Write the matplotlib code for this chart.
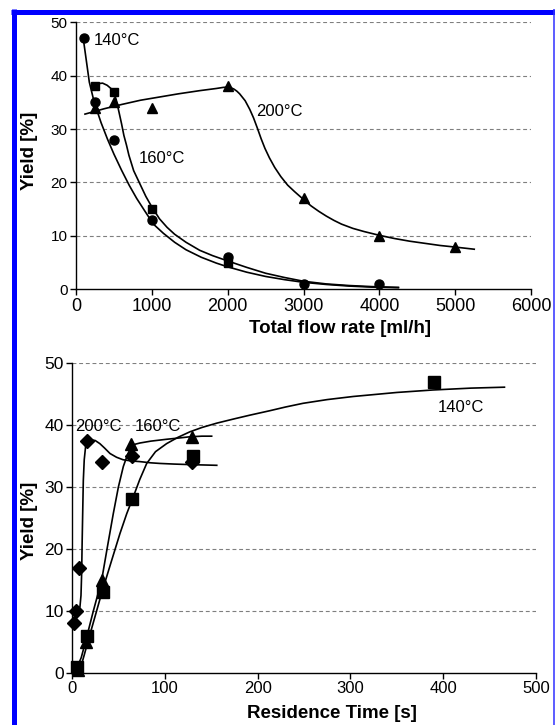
"""
plot.py
=======
Yield vs total flow rate (top) and yield vs residence time (bottom)
for three reactor temperatures.

Output
------
    out.png
"""

import matplotlib
matplotlib.use("Agg")
import matplotlib.pyplot as plt
from matplotlib.lines import Line2D

plt.rcParams["font.family"] = ["Liberation Sans", "DejaVu Sans"]

# ── Top panel: total flow rate [ml/h] ─────────────────────────────────────────
flow_140 = [100, 250, 500, 1000, 2000, 3000, 4000]
yield_flow_140 = [47, 35, 28, 13, 6, 1, 1]

flow_160 = [250, 500, 1000, 2000]
yield_flow_160 = [38, 37, 15, 5]

flow_200 = [250, 500, 1000, 2000, 3000, 4000, 5000]
yield_flow_200 = [34, 35, 34, 38, 17, 10, 8]

# trend lines
fit_flow_140_x = [90, 175, 240, 330, 415, 500, 600, 700, 800, 900, 1020,
                  1150, 1300, 1450, 1650, 1850, 2000, 2250, 2500, 2750,
                  3000, 3300, 3600, 3900, 4250]
fit_flow_140_y = [47.5, 38.8, 35.0, 31.2, 28.1, 25.3, 22.3, 19.5, 17.0,
                  14.8, 12.2, 10.5, 8.8, 7.4, 6.0, 4.9, 4.2, 3.2, 2.4, 1.8,
                  1.3, 0.9, 0.6, 0.4, 0.3]

fit_flow_160_x = [250, 290, 350, 410, 460, 500, 530, 566, 600, 631, 665,
                  697, 760, 850, 920, 1000, 1100, 1200, 1300, 1450, 1630,
                  1800, 2000, 2250, 2500, 2750, 3000, 3300, 3600, 3900, 4250]
fit_flow_160_y = [38.1, 38.5, 38.6, 38.2, 37.6, 36.8, 35.5, 33.2, 31.0,
                  28.8, 27.0, 25.1, 22.2, 19.5, 17.4, 15.4, 13.2, 11.6,
                  10.3, 8.8, 7.3, 6.3, 5.3, 4.1, 3.0, 2.2, 1.5, 1.0, 0.7,
                  0.5, 0.35]

fit_flow_200_x = [118, 370, 600, 850, 1100, 1350, 1634, 1850, 1940, 1983,
                  2030, 2080, 2120, 2157, 2230, 2290, 2340, 2390, 2440,
                  2490, 2550, 2620, 2700, 2790, 2880, 3000, 3100, 3200,
                  3300, 3400, 3500, 3650, 3800, 4000, 4200, 4400, 4600,
                  4800, 5000, 5250]
fit_flow_200_y = [32.8, 33.8, 34.6, 35.4, 36.0, 36.6, 37.2, 37.6, 37.8,
                  37.85, 37.8, 37.5, 37.1, 36.6, 35.3, 33.7, 32.1, 30.2,
                  28.2, 26.4, 24.6, 22.8, 21.1, 19.5, 18.3, 16.8, 15.6,
                  14.6, 13.7, 12.9, 12.2, 11.4, 10.8, 10.1, 9.5, 9.0, 8.6,
                  8.2, 7.9, 7.5]

flow_labels = ["140°C", "160°C", "200°C"]
flow_label_x = [235, 824, 2374]
flow_label_y = [46.6, 24.5, 33.2]

# ── Bottom panel: residence time [s] ──────────────────────────────────────────
time_140 = [5, 16, 33, 65, 130, 390]
yield_time_140 = [1, 6, 13, 28, 35, 47]

time_160 = [6, 15, 32, 64, 129]
yield_time_160 = [0.5, 5, 15, 37, 38]

time_200 = [2, 4, 8, 16.5, 32, 65, 129]
yield_time_200 = [8, 10, 17, 37.5, 34, 35, 34]

fit_time_140_x = [0, 4, 8.6, 13, 17.6, 25, 32, 42, 51.7, 59, 66, 73, 80.5,
                  90, 102, 114, 127, 140, 156, 175, 192, 213, 230, 249,
                  275, 303, 350, 389, 430, 466]
fit_time_140_y = [0, 0, 0.5, 2.8, 5.3, 9.2, 12.9, 17.8, 22.5, 25.7, 28.4,
                  31.2, 33.8, 35.7, 37.0, 38.0, 38.9, 39.6, 40.3, 41.0,
                  41.6, 42.3, 42.9, 43.5, 44.1, 44.6, 45.25, 45.65, 45.95,
                  46.1]

fit_time_160_x = [0, 5, 10, 15, 23, 32, 38, 44.5, 50, 55.3, 60, 64.3, 68,
                  73.3, 85, 102, 115, 127, 140, 150.5]
fit_time_160_y = [0, 0.7, 2.5, 5.3, 10.0, 15.0, 20.2, 25.7, 30.0, 33.3,
                  35.3, 36.6, 36.9, 37.1, 37.4, 37.7, 37.9, 38.1, 38.2,
                  38.2]

fit_time_200_x = [2, 4, 6.1, 8.6, 9.7, 10.4, 11.0, 11.5, 12.2, 13.2, 15,
                  18, 21, 25, 30, 35, 41, 48, 55, 64, 73, 85, 95, 110,
                  130, 156]
fit_time_200_y = [8.1, 8.8, 9.6, 10.7, 12.5, 16.0, 21.5, 25.5, 31.0, 34.4,
                  37.0, 37.5, 37.6, 37.5, 37.0, 36.3, 35.4, 34.8, 34.4,
                  34.2, 34.1, 33.9, 33.8, 33.7, 33.6, 33.5]

time_labels = ["200°C", "160°C", "140°C"]
time_label_x = [3.2, 68, 394]
time_label_y = [39.8, 39.8, 42.9]

GRID_COLOR = "#7f7f7f"
BORDER_BLUE = "#0000ff"


def style_axes(ax, xmax, xstep, xlabel, xlabel_pos, ylabel_pos,
               xtick_size, ytick_size):
    ax.set_xlim(0, xmax)
    ax.set_ylim(0, 50)
    ax.set_xticks(range(0, xmax + 1, xstep))
    ax.set_yticks(range(0, 51, 10))
    for y in range(10, 51, 10):
        ax.axhline(y, color=GRID_COLOR, lw=0.8, ls=(0, (3.5, 2.5)),
                   zorder=0)
    ax.spines["top"].set_visible(False)
    ax.spines["right"].set_visible(False)
    for side in ("left", "bottom"):
        ax.spines[side].set_linewidth(1.0)
    ax.tick_params(direction="out", length=4, width=1.0, pad=2)
    ax.tick_params(axis="x", labelsize=xtick_size)
    ax.tick_params(axis="y", labelsize=ytick_size)
    ax.set_xlabel(xlabel, fontsize=13.5, fontweight="bold")
    ax.set_ylabel("Yield [%]", fontsize=13.5, fontweight="bold")
    ax.xaxis.set_label_coords(*xlabel_pos)
    ax.yaxis.set_label_coords(*ylabel_pos)


def plot_flow(ax):
    kw = dict(color="black", lw=1.2, zorder=2)
    ax.plot(fit_flow_140_x, fit_flow_140_y, **kw)
    ax.plot(fit_flow_160_x, fit_flow_160_y, **kw)
    ax.plot(fit_flow_200_x, fit_flow_200_y, **kw)

    ax.plot(flow_140, yield_flow_140, "o", color="black", ms=6.5, zorder=3,
            clip_on=False)
    ax.plot(flow_160, yield_flow_160, "s", color="black", ms=6, zorder=3,
            clip_on=False)
    ax.plot(flow_200, yield_flow_200, "^", color="black", ms=7.5, zorder=3,
            clip_on=False)

    for txt, x, y in zip(flow_labels, flow_label_x, flow_label_y):
        ax.text(x, y, txt, fontsize=12, ha="left", va="center")

    style_axes(ax, 6000, 1000, "Total flow rate [ml/h]",
               (0.58, -0.115), (-0.084, 0.52), 13, 11)


def plot_time(ax):
    kw = dict(color="black", lw=1.2, zorder=2)
    ax.plot(fit_time_140_x, fit_time_140_y, **kw)
    ax.plot(fit_time_160_x, fit_time_160_y, **kw)
    ax.plot(fit_time_200_x, fit_time_200_y, **kw)

    ax.plot(time_140, yield_time_140, "s", color="black", ms=8.5, zorder=3,
            clip_on=False)
    ax.plot(time_160, yield_time_160, "^", color="black", ms=9, zorder=3,
            clip_on=False)
    ax.plot(time_200, yield_time_200, "D", color="black", ms=7, zorder=3,
            clip_on=False)

    for txt, x, y in zip(time_labels, time_label_x, time_label_y):
        ax.text(x, y, txt, fontsize=12, ha="left", va="center")

    style_axes(ax, 500, 100, "Residence Time [s]",
               (0.56, -0.102), (-0.074, 0.49), 12, 12.5)


def draw_border(fig):
    """Blue frame on the left, top and right edges."""
    W, H = 555.0, 725.0
    fig.add_artist(Line2D([13.5 / W, 13.5 / W], [0, 1 - 9 / H],
                          transform=fig.transFigure, color=BORDER_BLUE,
                          lw=3.6, solid_capstyle="butt"))
    fig.add_artist(Line2D([11 / W, 1], [1 - 11.5 / H, 1 - 11.5 / H],
                          transform=fig.transFigure, color=BORDER_BLUE,
                          lw=3.6, solid_capstyle="butt"))
    fig.add_artist(Line2D([553.5 / W, 553.5 / W], [0, 1 - 9 / H],
                          transform=fig.transFigure, color="#3030ff",
                          lw=1.1, solid_capstyle="butt"))


def main() -> None:
    fig = plt.figure(figsize=(5.55, 7.25), dpi=100)
    ax_top = fig.add_axes([0.137, 0.601, 0.820, 0.3683])
    ax_bot = fig.add_axes([0.1297, 0.0717, 0.8361, 0.4276])

    plot_flow(ax_top)
    plot_time(ax_bot)
    draw_border(fig)

    fig.savefig("out.png", dpi=100)
    plt.close(fig)


if __name__ == "__main__":
    main()
